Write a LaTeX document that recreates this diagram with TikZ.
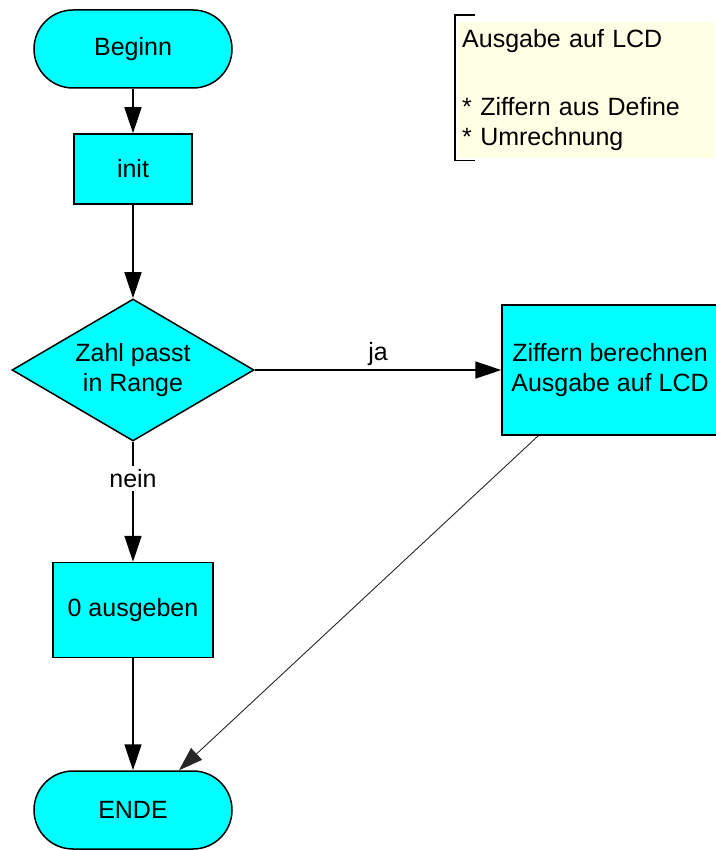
\documentclass[tikz,border=0pt]{standalone}
\usepackage{fontspec}
\setmainfont{Liberation Sans}
\usetikzlibrary{shapes.geometric, arrows.meta, positioning}
\definecolor{flowcyan}{HTML}{00FFFF}
\definecolor{notecream}{HTML}{FFFFE6}

\begin{document}
\begin{tikzpicture}[x=1pt, y=1pt,
    every node/.style={font=\fontsize{25}{30}\selectfont},
    terminal/.style={draw, fill=flowcyan, line width=1.5pt, rounded corners=39pt, minimum width=198pt, minimum height=78pt},
    process/.style={draw, fill=flowcyan, line width=1.5pt, align=center},
    decision/.style={draw, fill=flowcyan, line width=1.5pt, diamond, aspect=1.7, inner sep=0pt, minimum width=242pt, minimum height=142pt, align=center},
    flow/.style={line width=1.5pt, -{Triangle[length=26pt, width=17pt]}}]
    \useasboundingbox (0,0) rectangle (715,-850);

    \node (Start) [terminal] at (133,-49) {Beginn};
    \node (Init) [process, below of=Start, node distance=120pt, minimum width=118pt, minimum height=70pt] {init};
    \node (Check) [decision, below of=Init, node distance=201pt] {Zahl passt\\in Range};
    \node (Digits) [process, right of=Check, node distance=477pt, minimum width=216pt, minimum height=130pt] {Ziffern berechnen\\Ausgabe auf LCD};
    \node (Zero) [process, below of=Check, node distance=240pt, minimum width=160pt, minimum height=95pt] {0 ausgeben};
    \node (End) [terminal, below of=Zero, node distance=200pt] {ENDE};

    % comment in the upper right corner
    \node (Note) [anchor=north west, fill=notecream, text width=249pt, minimum height=136pt, inner xsep=4pt, align=left] at (458,-22) {Ausgabe auf LCD\\[38pt]* Ziffern aus Define\\{}* Umrechnung};
    \draw[line width=1.2pt] ([xshift=17pt, yshift=7pt]Note.north west) -| ([xshift=-3pt, yshift=-2pt]Note.south west) -- ++(20,0);

    \draw[flow] (Start) -- (Init);
    \draw[flow] (Init) -- (Check);
    \draw[flow] (Check) -- node[above] {ja} (Digits);
    \draw[flow] (Check) -- node[pos=0.31, fill=white] {nein} (Zero);
    \draw[flow] (Zero) -- (End);
    \draw[line width=0.9pt, black!85, -{Triangle[length=24pt, width=16pt]}] ([xshift=37pt]Digits.south west) -- ([xshift=46pt]End.north);
\end{tikzpicture}
\end{document}
